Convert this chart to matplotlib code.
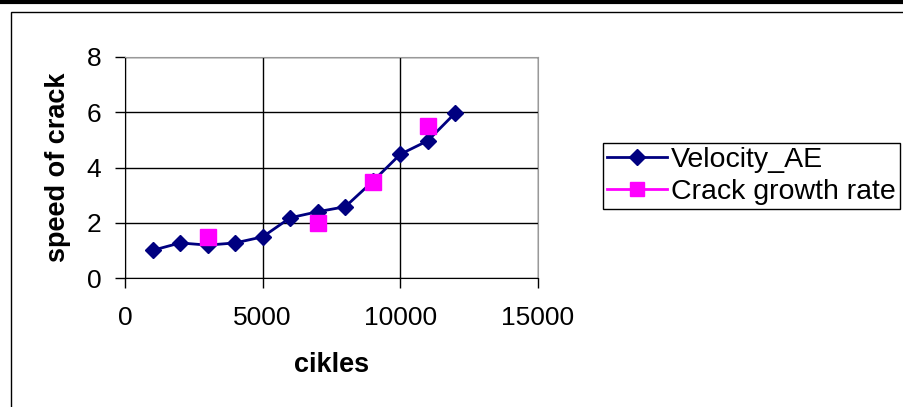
import matplotlib.pyplot as plt
from matplotlib.patches import Rectangle
from matplotlib.lines import Line2D

plt.rcParams['font.family'] = ['Liberation Sans', 'DejaVu Sans']

cycles_ae = [1000, 2000, 3000, 4000, 5000, 6000, 7000, 8000, 9000, 10000, 11000, 12000]
velocity_ae = [1.0, 1.27, 1.19, 1.27, 1.49, 2.18, 2.4, 2.58, 3.5, 4.48, 4.97, 5.98]
cycles_crack = [3000, 7000, 9000, 11000]
crack_rate = [1.49, 1.98, 3.48, 5.49]

fig = plt.figure(figsize=(9.04, 4.07), dpi=100)

# outer frame like the source document
fig.add_artist(Line2D([0, 1], [1 - 1.5 / 407, 1 - 1.5 / 407], color='black', lw=3,
                      transform=fig.transFigure))
fig.add_artist(Rectangle((10.5 / 904, -0.1), 1.2, 1 - 11.5 / 407 + 0.1, fill=False,
                         edgecolor='black', lw=1, transform=fig.transFigure))

ax = fig.add_axes([125 / 904, (407 - 278) / 407, (538 - 125) / 904, (278 - 57) / 407])

ax.plot(cycles_ae, velocity_ae, color='#000080', marker='D', markersize=8, lw=2,
        label='Velocity_AE', zorder=3)
ax.plot(cycles_crack, crack_rate, color='#FF00FF', marker='s', markersize=11, lw=0,
        label='Crack growth rate', zorder=4)

ax.set_xlim(0, 15000)
ax.set_ylim(0, 8)
ax.set_xticks([0, 5000, 10000, 15000])
ax.set_yticks([0, 2, 4, 6, 8])
ax.grid(True, color='black', lw=1)
ax.set_axisbelow(True)
for s in ['top', 'right']:
    ax.spines[s].set_color('#999999')
for s in ['left', 'bottom']:
    ax.spines[s].set_color('black')
ax.tick_params(labelsize=19, length=7, width=1)
ax.tick_params(axis='x', pad=13)
ax.tick_params(axis='y', pad=10)

ax.set_xlabel('cikles', fontsize=19.5, fontweight='bold', labelpad=16)
ax.set_ylabel('speed of crack', fontsize=19.5, fontweight='bold', labelpad=11)

leg_handles = [
    Line2D([], [], color='#000080', marker='D', markersize=8, lw=2),
    Line2D([], [], color='#FF00FF', marker='s', markersize=10, lw=2),
]
fig.legend(leg_handles, ['Velocity_AE', 'Crack growth rate'], loc='upper left',
           bbox_to_anchor=(603 / 904, 1 - 143 / 407), fontsize=20.5, frameon=True,
           fancybox=False, edgecolor='black', framealpha=1, borderpad=0.15,
           handlelength=2.1, handletextpad=0.15, labelspacing=0.2, borderaxespad=0)

fig.savefig('out.png', dpi=100)
